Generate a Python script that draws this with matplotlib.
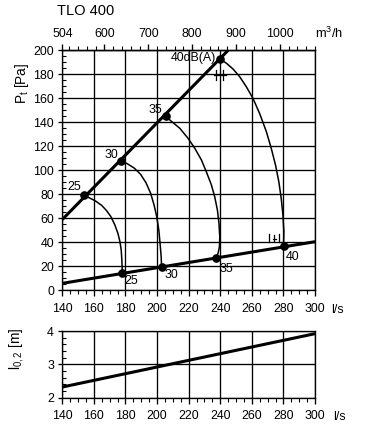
import matplotlib
matplotlib.use("Agg")
import matplotlib.pyplot as plt
import matplotlib.transforms as mtransforms
from matplotlib.ticker import MultipleLocator

plt.rcParams['font.family'] = ['Liberation Sans', 'DejaVu Sans']

# ---------------- data ----------------
title = "TLO 400"

# system lines (l/s, Pa)
upper_line_ls = [140, 245]
upper_line_pa = [59, 200]
lower_line_ls = [140, 300]
lower_line_pa = [5.8, 40.5]

# operating points
levels = ["25", "30", "35", "40"]
upper_pts_ls = [153.9, 177.2, 205.4, 239.9]
upper_pts_pa = [79.4, 107.8, 145.5, 192.8]
lower_pts_ls = [177.7, 202.9, 237.4, 280.1]
lower_pts_pa = [14.2, 19.4, 27.2, 36.5]

# sound level curves
curve25_ls = [153.9, 156.4, 160.7, 164.9, 168.1, 170.8, 173.3, 175.2, 176.5, 177.3, 177.7, 177.9, 177.7]
curve25_pa = [79.4, 77.5, 74.7, 70.8, 66.3, 61.3, 54.4, 47.5, 40.5, 33.6, 25.3, 18.3, 14.2]
curve30_ls = [177.2, 181.0, 185.6, 189.6, 193.0, 195.9, 198.1, 199.8, 201.1, 201.9, 202.6, 202.8, 202.9]
curve30_pa = [107.8, 105.6, 101.8, 96.6, 89.6, 81.0, 71.1, 61.3, 50.3, 39.2, 28.0, 21.5, 19.4]
curve35_ls = [205.4, 208.1, 214.4, 219.6, 223.9, 228.1, 231.2, 234.4, 236.5, 238.2, 239.2, 239.7, 239.5, 238.6, 237.4]
curve35_pa = [145.5, 141.9, 135.0, 126.7, 118.3, 108.6, 98.8, 87.8, 78.0, 66.9, 55.8, 44.7, 36.3, 30.8, 27.2]
curve40_ls = [239.9, 243.9, 248.1, 252.3, 256.5, 260.7, 264.9, 269.2, 272.3, 275.0, 277.1, 278.6, 279.7, 280.3, 280.1]
curve40_pa = [192.8, 189.2, 184.4, 178.0, 169.7, 160.0, 147.5, 132.2, 118.3, 104.4, 90.5, 76.7, 62.8, 48.8, 36.5]
curves_ls = [curve25_ls, curve30_ls, curve35_ls, curve40_ls]
curves_pa = [curve25_pa, curve30_pa, curve35_pa, curve40_pa]

# throw length l0,2
throw_ls = [140, 300]
throw_m = [2.32, 3.92]

# axis ticks
x_ticks = [140, 160, 180, 200, 220, 240, 260, 280, 300]
y_ticks = [0, 20, 40, 60, 80, 100, 120, 140, 160, 180, 200]
top_ticks = [504, 600, 700, 800, 900, 1000]
throw_ticks = [2, 3, 4]

# small symbols near 40 dB points (anchor in data)
sym_upper = (239.7, 179.4)
sym_lower = (274.3, 43.4)

# ---------------- figure ----------------
W, H = 372, 440
DPI = 100
fig = plt.figure(figsize=(W / DPI, H / DPI), dpi=DPI)

L, R = 62.3, 315.0
ax = fig.add_axes([L / W, 1 - 290.3 / H, (R - L) / W, (290.3 - 50.3) / H])
ax2 = fig.add_axes([L / W, 1 - 397.7 / H, (R - L) / W, (397.7 - 331.0) / H])

fs = 8.9
lw_grid = 0.95

for a in (ax, ax2):
    a.set_xlim(140, 300)
    a.set_xticks(x_ticks)
    a.xaxis.set_minor_locator(MultipleLocator(5))
    a.grid(True, which='major', color='black', linewidth=lw_grid)
    a.set_axisbelow(True)
    for s in a.spines.values():
        s.set_linewidth(lw_grid)
        s.set_color('black')
    a.tick_params(axis='x', which='major', direction='out', length=4.5, width=lw_grid, labelsize=fs, pad=4.5)
    a.tick_params(axis='x', which='minor', direction='out', length=3, width=0.8)
    a.tick_params(axis='y', which='major', direction='out', length=3, width=lw_grid, labelsize=fs, pad=3)
    a.tick_params(axis='y', which='minor', direction='in', length=3, width=0.8)

# upper panel
ax.set_ylim(0, 200)
ax.set_yticks(y_ticks)
ax.yaxis.set_minor_locator(MultipleLocator(5))

ax.plot(upper_line_ls, upper_line_pa, color='black', lw=2.2, solid_capstyle='butt')
ax.plot(lower_line_ls, lower_line_pa, color='black', lw=2.2, solid_capstyle='butt')
for cl, cp in zip(curves_ls, curves_pa):
    ax.plot(cl, cp, color='black', lw=1.1, solid_joinstyle='round')
ax.plot(upper_pts_ls, upper_pts_pa, 'o', color='black', ms=5.2, zorder=5)
ax.plot(lower_pts_ls, lower_pts_pa, 'o', color='black', ms=5.2, zorder=5)

upper_labels = ["25", "30", "35", "40dB(A)"]
upper_offsets = [(-3, 2), (-3, 0), (-3, 0), (-4, 1)]
upper_va = ['bottom', 'bottom', 'bottom', 'center']
for lab, x, y, off, va in zip(upper_labels, upper_pts_ls, upper_pts_pa, upper_offsets, upper_va):
    ax.annotate(lab, (x, y), xytext=off, textcoords='offset pixels',
                ha='right', va=va, fontsize=fs)
lower_offsets = [(3, -2), (3, -2), (3, -5), (2, -5)]
for lab, x, y, off in zip(levels, lower_pts_ls, lower_pts_pa, lower_offsets):
    ax.annotate(lab, (x, y), xytext=off, textcoords='offset pixels',
                ha='left', va='top', fontsize=fs)

# small bracket symbols drawn in pixel offsets around their anchors
def px_trans(anchor):
    return (mtransforms.Affine2D().scale(1.0 / DPI) + fig.dpi_scale_trans
            + mtransforms.ScaledTranslation(anchor[0], anchor[1], ax.transData))

tu = px_trans(sym_upper)
ax.plot([-6, 6], [0, 0], color='black', lw=0.9, transform=tu)
ax.plot([-3.3, -3.3], [-5, 5], color='black', lw=0.9, transform=tu)
ax.plot([3.3, 3.3], [-5, 5], color='black', lw=0.9, transform=tu)

tl = px_trans(sym_lower)
ax.plot([-5, -5], [-4, 4], color='black', lw=0.9, transform=tl)
ax.plot([0, 0], [-3, 3], color='black', lw=0.9, transform=tl)
ax.plot([-1.5, 1.5], [-1, -1], color='black', lw=0.9, transform=tl)
ax.plot([5, 5], [-4, 4], color='black', lw=0.9, transform=tl)

# top axis in m3/h
sec = ax.secondary_xaxis('top', functions=(lambda x: x * 3.6, lambda m: m / 3.6))
sec.set_xticks(top_ticks)
sec.xaxis.set_minor_locator(MultipleLocator(20))
sec.tick_params(axis='x', which='major', direction='out', length=4.5, width=lw_grid, labelsize=fs, pad=3)
sec.tick_params(axis='x', which='minor', direction='out', length=3, width=0.8)
sec.spines['top'].set_linewidth(lw_grid)

# lower panel
ax2.set_ylim(2, 4)
ax2.set_yticks(throw_ticks)
ax2.yaxis.set_minor_locator(MultipleLocator(0.2))
ax2.plot(throw_ls, throw_m, color='black', lw=2.2, solid_capstyle='butt')

# texts
fig.text(57 / W, 1 - 15 / H, title, fontsize=10.5, ha='left', va='baseline')
fig.text(22 / W, 1 - 83 / H, "P$_\\mathregular{t}$ [Pa]", rotation=90, ha='center', va='center', fontsize=9.8)
fig.text(17 / W, 1 - 349 / H, "l$_\\mathregular{0,2}$ [m]", rotation=90, ha='center', va='center', fontsize=9.8)
fig.text(315 / W, 1 - 38 / H, "m$^\\mathregular{3}$/h", ha='left', va='baseline', fontsize=9.3)
fig.text(331 / W, 1 - 310 / H, "l/s", ha='left', va='center', fontsize=fs)
fig.text(333 / W, 1 - 417 / H, "l/s", ha='left', va='center', fontsize=fs)

fig.savefig("out.png", dpi=DPI)
